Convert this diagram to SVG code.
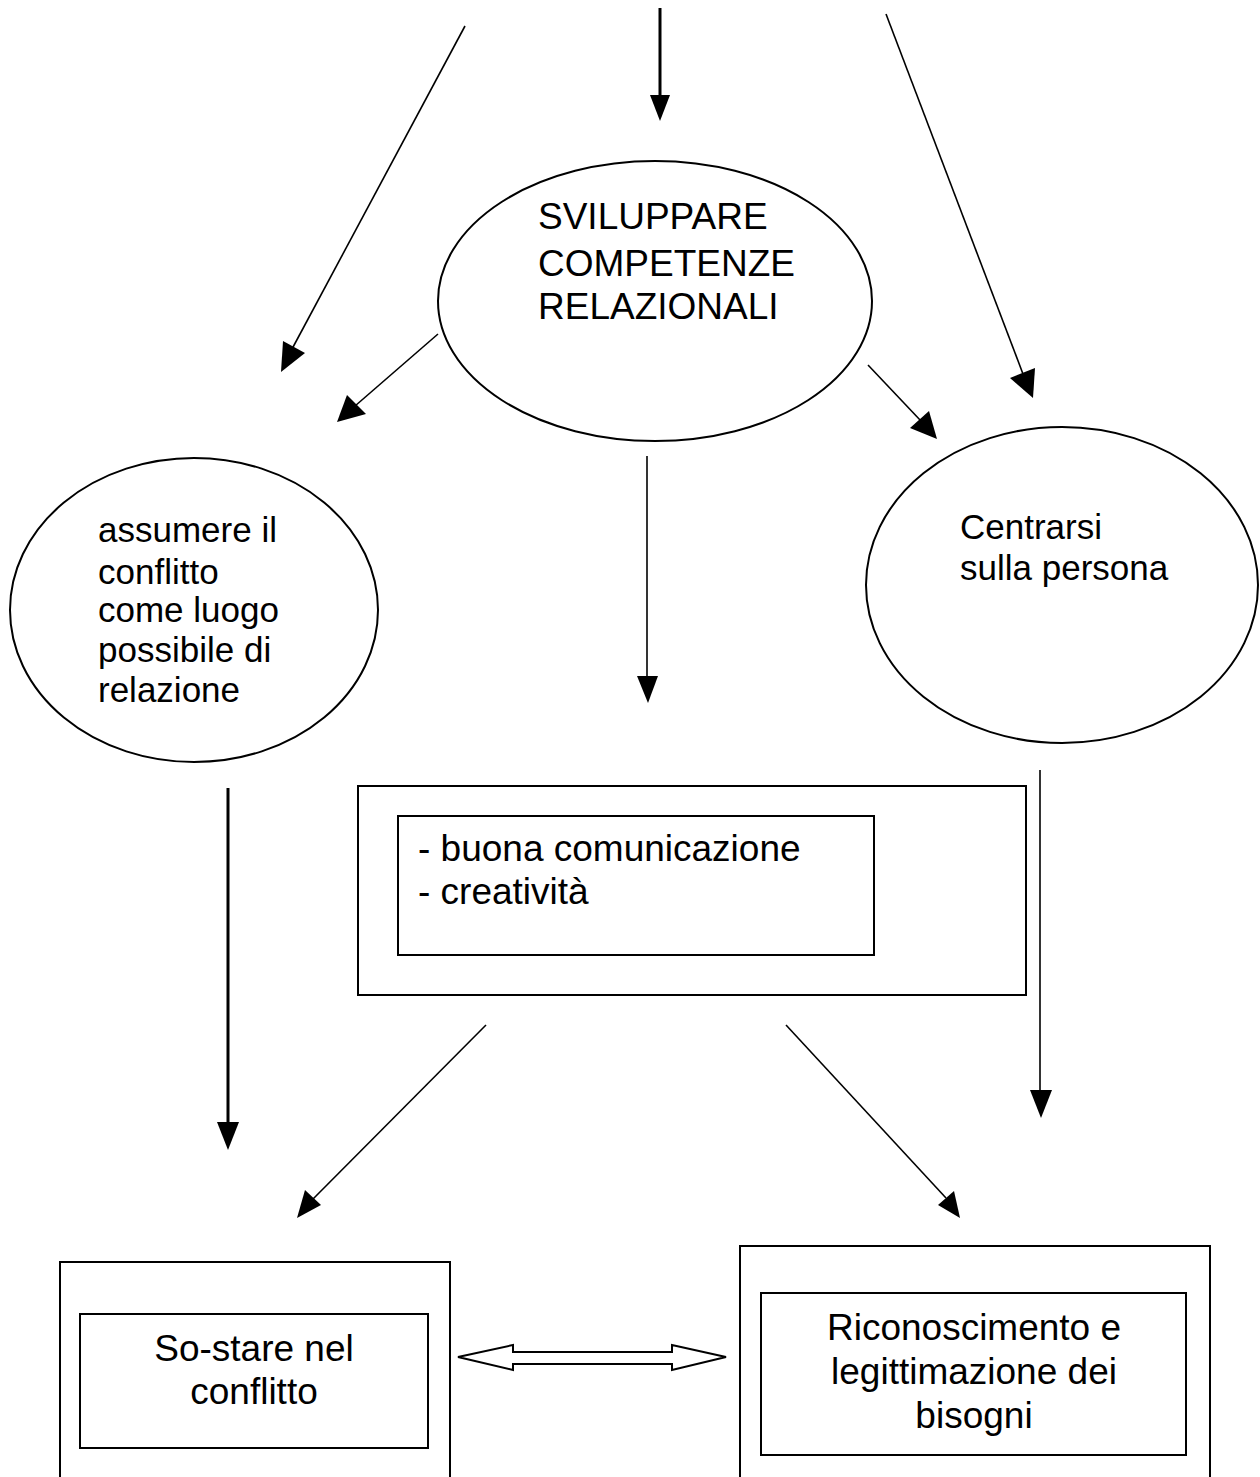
<svg xmlns="http://www.w3.org/2000/svg" width="1260" height="1477" viewBox="0 0 1260 1477">
<style>
.n{fill:#fff;stroke:#000;stroke-width:2}
.t{font-family:"Liberation Sans",Arial,sans-serif;font-size:37px;fill:#000}
.s{font-size:35px}
.c line{stroke:#000;stroke-width:1.6}
.c polygon{fill:#000;stroke:none}
</style>
<rect width="1260" height="1477" fill="#fff"/>
<g id="n-center">
<ellipse class="n" cx="655" cy="301" rx="217" ry="140"/>
<text class="t" x="538" y="229">SVILUPPARE</text>
<text class="t" x="538" y="276">COMPETENZE</text>
<text class="t" x="538" y="319">RELAZIONALI</text>
</g>
<g id="n-left">
<ellipse class="n" cx="194" cy="610" rx="184" ry="152"/>
<text class="t s" x="98" y="542">assumere il</text>
<text class="t s" x="98" y="584">conflitto</text>
<text class="t s" x="98" y="622">come luogo</text>
<text class="t s" x="98" y="662">possibile di</text>
<text class="t s" x="98" y="702">relazione</text>
</g>
<g id="n-right">
<ellipse class="n" cx="1062" cy="585" rx="196" ry="158"/>
<text class="t s" x="960" y="539">Centrarsi</text>
<text class="t s" x="960" y="580">sulla persona</text>
</g>
<g id="n-mid">
<rect class="n" x="358" y="786" width="668" height="209"/>
<rect class="n" x="398" y="816" width="476" height="139" stroke-width="2.5"/>
<text class="t" x="418" y="861">- buona comunicazione</text>
<text class="t" x="418" y="904">- creatività</text>
</g>
<g id="n-bl">
<rect class="n" x="60" y="1262" width="390" height="230"/>
<rect class="n" x="80" y="1314" width="348" height="134" stroke-width="2.5"/>
<text class="t" x="254" y="1361" text-anchor="middle">So-stare nel</text>
<text class="t" x="254" y="1404" text-anchor="middle">conflitto</text>
</g>
<g id="n-br">
<rect class="n" x="740" y="1246" width="470" height="250"/>
<rect class="n" x="761" y="1293" width="425" height="162" stroke-width="2.5"/>
<text class="t" x="974" y="1340" text-anchor="middle">Riconoscimento e</text>
<text class="t" x="974" y="1384" text-anchor="middle">legittimazione dei</text>
<text class="t" x="974" y="1428" text-anchor="middle">bisogni</text>
</g>
<g id="connectors" class="c">
<line x1="660" y1="8" x2="660" y2="96" style="stroke-width:3"/>
<polygon points="650,95 670,95 660,121"/>
<line x1="465" y1="26" x2="292" y2="349"/>
<polygon points="283,341 305,353 281,372"/>
<line x1="886" y1="14" x2="1023" y2="374"/>
<polygon points="1010,378 1035,368 1033,398"/>
<line x1="438" y1="334" x2="355" y2="406"/>
<polygon points="347,395 366,414 337,422"/>
<line x1="868" y1="365" x2="921" y2="421"/>
<polygon points="910,428 929,411 937,439"/>
<line x1="647" y1="456" x2="647" y2="677"/>
<polygon points="637,676 658,676 648,703"/>
<line x1="228" y1="788" x2="228" y2="1124" style="stroke-width:3"/>
<polygon points="217,1122 239,1122 228,1150"/>
<line x1="1040" y1="770" x2="1040" y2="1092"/>
<polygon points="1030,1090 1052,1090 1041,1118"/>
<line x1="486" y1="1025" x2="313" y2="1199"/>
<polygon points="305,1190 321,1205 297,1218"/>
<line x1="786" y1="1025" x2="946" y2="1198"/>
<polygon points="938,1205 954,1191 960,1218"/>
<polygon points="458,1357 513,1345 513,1352 672,1352 672,1345 726,1357 672,1370 672,1364 513,1364 513,1370" style="fill:#fff;stroke:#000;stroke-width:2"/>
</g>
</svg>
